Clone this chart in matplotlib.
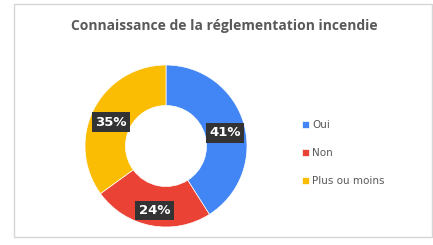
import numpy as np
import matplotlib.pyplot as plt
from matplotlib.patches import Rectangle

# data
labels = ["Oui", "Non", "Plus ou moins"]
values = [41, 24, 35]
colors = ["#4285f4", "#ea4335", "#fbbc04"]
title = "Connaissance de la réglementation incendie"

fig = plt.figure(figsize=(4.33, 2.45), dpi=100)
fig.patch.set_facecolor("white")

# light frame around the chart
fig.patches.append(Rectangle((14 / 433, 8 / 245), 418 / 433, 233 / 245,
                             transform=fig.transFigure, fill=False,
                             edgecolor="#d6d6d6", linewidth=1.0))

fig.text(0.518, 0.895, title, ha="center", va="center", fontsize=10,
         fontweight="bold", color="#595959", family="Open Sans")

ax = fig.add_axes([85 / 433, 18 / 245, 162 / 433, 162 / 245])
wedges, _ = ax.pie(values, colors=colors, startangle=90, counterclock=False,
                   radius=1.0, wedgeprops=dict(width=0.5, edgecolor="white", linewidth=0.5))
ax.set_xlim(-1, 1)
ax.set_ylim(-1, 1)
ax.set_aspect("auto")

# percentage labels in dark boxes
start = 90.0
for v in values:
    mid = start - v * 3.6 / 2
    x = 0.76 * np.cos(np.radians(mid))
    y = 0.76 * np.sin(np.radians(mid)) - 0.05
    ax.text(x, y, f"{v}%", ha="center", va="center", color="white",
            fontsize=9.5, fontweight="bold",
            bbox=dict(boxstyle="square,pad=0.25", facecolor="#333333", edgecolor="none"))
    start -= v * 3.6

fig.legend(wedges, labels, loc="center left", bbox_to_anchor=(0.675, 0.375),
           frameon=False, fontsize=7.5, handlelength=0.7, handleheight=0.7,
           handletextpad=0.3, labelspacing=1.7, labelcolor="#595959")

fig.savefig("out.png", dpi=100)
